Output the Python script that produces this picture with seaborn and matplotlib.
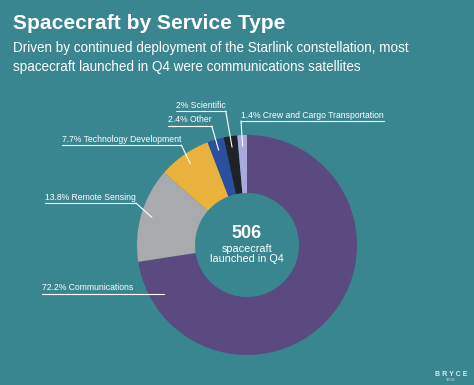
import numpy as np
import matplotlib
matplotlib.use("Agg")
import matplotlib.pyplot as plt
import seaborn as sns

# data
categories = ["Communications", "Remote Sensing", "Technology Development",
              "Other", "Scientific", "Crew and Cargo Transportation"]
shares = [72.2, 13.8, 7.7, 2.4, 2.0, 1.4]
share_labels = ["72.2%", "13.8%", "7.7%", "2.4%", "2%", "1.4%"]
slice_colors = ["#5b4a7f", "#a9aaad", "#e8b23c", "#2b4f9c", "#1f2228", "#a9a9de"]
total_spacecraft = 506

sns.set_theme(style="white")
plt.rcParams["font.family"] = ["Liberation Sans", "DejaVu Sans"]

W, H = 474, 385
bg = "#3a8690"
fig = plt.figure(figsize=(W / 100, H / 100), dpi=100, facecolor=bg)
ax = fig.add_axes([0, 0, 1, 1])
ax.set_facecolor(bg)

# donut
cx, cy, R = 247, H - 245, 110
wedges, _ = ax.pie(shares, colors=slice_colors, startangle=90, counterclock=False,
                   center=(cx, cy), radius=R, frame=True,
                   wedgeprops=dict(width=58, edgecolor="none"))
ax.set_xlim(0, W)
ax.set_ylim(0, H)
ax.axis("off")

# label layout: (left x, underline y) in pixels from top, and leader side
label_pos = [(42, 294), (45, 203), (62, 145), (168, 126), (176, 111), (241, 121)]
leader_side = ["ring", "right", "right", "right", "right", "left"]

fig.canvas.draw()
renderer = fig.canvas.get_renderer()
inv = ax.transData.inverted()
lc = "white"
for cat, pct, w, (lx, uy), side in zip(categories, share_labels, wedges, label_pos, leader_side):
    yy = H - uy
    t = ax.text(lx, yy + 1.5, f"{pct} {cat}", color="white", fontsize=6.2,
                ha="left", va="bottom")
    bb = t.get_window_extent(renderer=renderer).transformed(inv)
    x0, x1 = bb.x0, bb.x1
    if side == "ring":
        r = 0.88 * R
        x1 = cx - np.sqrt(r ** 2 - (yy - cy) ** 2)
        ax.plot([x0, x1], [yy, yy], color=lc, lw=0.8)
        continue
    ax.plot([x0, x1], [yy, yy], color=lc, lw=0.8)
    ang = np.deg2rad((w.theta1 + w.theta2) / 2)
    r = 0.9 * R
    px, py = cx + r * np.cos(ang), cy + r * np.sin(ang)
    sx = x1 if side == "right" else x0
    ax.plot([sx, px], [yy, py], color=lc, lw=0.8)

# centre text
ax.text(cx, H - 234, str(total_spacecraft), color="white", fontsize=13,
        fontweight="bold", ha="center", va="center")
ax.text(cx, H - 249, "spacecraft", color="white", fontsize=7.8, ha="center", va="center")
ax.text(cx, H - 259.5, "launched in Q4", color="white", fontsize=7.8, ha="center", va="center")

# titles
ax.text(13, H - 29, "Spacecraft by Service Type", color="white", fontsize=15.1,
        fontweight="bold", ha="left", va="baseline")
ax.text(13, H - 52, "Driven by continued deployment of the Starlink constellation, most",
        color="white", fontsize=9.75, ha="left", va="baseline")
ax.text(13, H - 71, "spacecraft launched in Q4 were communications satellites",
        color="white", fontsize=9.75, ha="left", va="baseline")

# logo
ax.text(451, H - 374, "B R Y C E", color="#d8eef0", fontsize=5, fontweight="bold",
        ha="center", va="center")
ax.text(451, H - 380, "TECH", color="#d8eef0", fontsize=2.5, ha="center", va="center")

fig.savefig("out.png", dpi=100, facecolor=bg)
